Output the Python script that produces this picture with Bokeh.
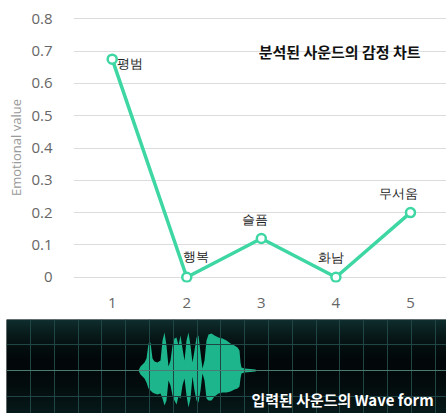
import numpy as np
from bokeh.plotting import figure
from bokeh.models import ColumnDataSource, LabelSet, Label, Range1d, FixedTicker, Span
from bokeh.embed import file_html
from bokeh.resources import INLINE

# ---- data ----
categories = [1, 2, 3, 4, 5]
emotions = ["평범", "행복", "슬픔", "화남", "무서움"]
values = [0.675, 0.0, 0.12, 0.0, 0.2]
y_ticks = [0, 0.1, 0.2, 0.3, 0.4, 0.5, 0.6, 0.7, 0.8]
chart_title = "분석된 사운드의 감정 차트"
wave_title = "입력된 사운드의 Wave form"

# waveform envelope (time position, upper amplitude, lower amplitude)
wave_t = [138, 140, 142, 144, 146, 148, 150, 152, 154, 157, 160, 162, 164, 166, 168, 170,
          172, 174, 176, 178, 180, 182, 184, 186, 188, 190, 192, 194, 196, 198, 200, 202,
          204, 206, 208, 211, 214, 218, 222, 226, 230, 234, 237, 239, 240, 241, 244, 250,
          255, 256]
wave_hi = [0, 4, 6, 8, 12, 27, 28, 12, 9, 8, 10, 30, 38, 25, 4, 10,
           25, 32, 33, 25, 35, 22, 10, 30, 38, 25, 8, 20, 33, 35, 18, 2,
           10, 30, 36, 37, 35, 33, 32, 30, 27, 25, 23, 20, 8, 3, 2, 1.5,
           1, 0]
wave_lo = [0, -4, -6, -8, -12, -18, -20, -22, -23, -24, -23, -28, -35, -30, -10, -15,
           -25, -30, -34, -26, -28, -15, -8, -25, -37, -28, -6, -20, -30, -32, -20, -3,
           -10, -28, -30, -30, -26, -23, -22, -22, -21, -19, -18, -16, -8, -3, -2, -1.5,
           -1, 0]

# ---- styles ----
LINE = "#3ED7A4"
label_dx = [18, 9, -6, -5, -12]
label_dy = [-4, 21, 19, 20, 19]

p = figure(width=446, height=318, x_range=Range1d(0.481, 5.483),
           y_range=Range1d(-0.0164, 0.8195), output_backend="svg",
           toolbar_location=None, min_border_left=73, min_border_right=0,
           min_border_top=12, min_border_bottom=36)
p.outline_line_color = None
p.background_fill_color = "white"
p.border_fill_color = "white"
p.xgrid.grid_line_color = None
p.ygrid.grid_line_color = "#dcdcdc"
p.ygrid.grid_line_width = 1.2
p.xaxis.ticker = FixedTicker(ticks=categories)
p.yaxis.ticker = FixedTicker(ticks=y_ticks)
p.yaxis.major_label_overrides = {0: "0"}
for ax in (p.xaxis, p.yaxis):
    ax.axis_line_color = None
    ax.major_tick_line_color = None
    ax.minor_tick_line_color = None
    ax.major_label_text_font = "Open Sans"
    ax.major_label_text_font_size = "15px"
    ax.major_label_text_color = "#666666"
p.yaxis.major_label_standoff = 15
p.xaxis.major_label_standoff = 9
p.yaxis.axis_label = "Emotional value"
p.yaxis.axis_label_text_font = "Open Sans"
p.yaxis.axis_label_text_font_size = "13px"
p.yaxis.axis_label_text_font_style = "normal"
p.yaxis.axis_label_text_color = "#999999"
p.yaxis.axis_label_standoff = 3

p.line(categories, values, line_color=LINE, line_width=3.5)
p.scatter(categories, values, size=9, fill_color="white", line_color=LINE, line_width=2.5)

src = ColumnDataSource(dict(x=categories, y=values, t=emotions, dx=label_dx, dy=label_dy))
p.add_layout(LabelSet(x="x", y="y", text="t", x_offset="dx", y_offset="dy", source=src,
                      text_font="Noto Sans CJK KR", text_font_size="13px",
                      text_color="#222222", text_align="center", text_baseline="middle"))
p.add_layout(Label(x=4.05, y=0.70, text=chart_title, text_font="Noto Sans CJK KR",
                   text_font_size="15px", text_font_style="bold", text_color="#111111",
                   text_align="center", text_baseline="middle"))

# ---- waveform panel ----
p2 = figure(width=446, height=95, x_range=Range1d(6, 446), y_range=Range1d(-43, 51),
            output_backend="svg", toolbar_location=None, min_border=0,
            min_border_left=6, min_border_top=1)
p2.axis.visible = False
p2.outline_line_color = None
p2.border_fill_color = "white"
p2.background_fill_color = "#030c0d"
# vertical background gradient (decoration)
rows = 94
fy = np.linspace(-43, 51, rows)
top_c = np.array([16, 46, 46]); mid_c = np.array([2, 8, 9]); bot_c = np.array([7, 26, 27])
img = np.zeros((rows, 1), dtype=np.uint32)
view = img.view(dtype=np.uint8).reshape((rows, 1, 4))
for i, f in enumerate(fy):
    if f > 8:
        w = ((f - 8) / 43) ** 1.6
        c = mid_c + (top_c - mid_c) * w
    else:
        w = ((8 - f) / 51) ** 1.6
        c = mid_c + (bot_c - mid_c) * w
    view[i, 0, 0:3] = c.astype(np.uint8)
    view[i, 0, 3] = 255
p2.image_rgba(image=[img], x=6, y=-43, dw=440, dh=94)
p2.xgrid.ticker = FixedTicker(ticks=list(np.arange(30, 446, 23.8)))
p2.ygrid.ticker = FixedTicker(ticks=[-26.3, 26.3])
for g in (p2.xgrid, p2.ygrid):
    g.grid_line_color = "#1f4644"
    g.grid_line_width = 1
    g.level = "glyph"
p2.add_layout(Span(location=0, dimension="width", line_color="#4b7c72", line_width=1))
p2.varea(x=wave_t, y1=wave_lo, y2=wave_hi, fill_color="#1CB58C")
p2.add_layout(Label(x=342, y=-29, text=wave_title, text_font="Noto Sans CJK KR",
                    text_font_size="15px", text_font_style="bold", text_color="white",
                    text_align="center", text_baseline="middle"))

open("out.html", "w").write(file_html([p, p2], INLINE))
